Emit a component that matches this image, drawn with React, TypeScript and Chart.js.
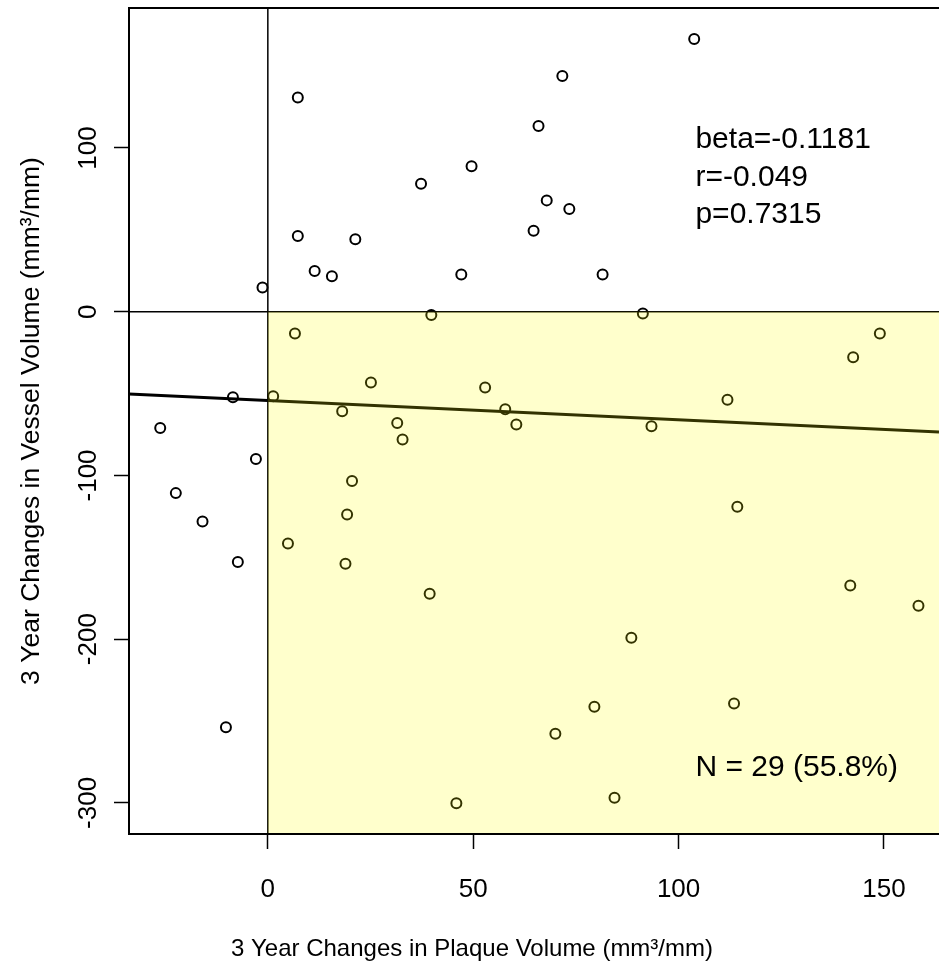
import { useEffect, useRef } from 'react';
import { Chart, registerables } from 'chart.js';

Chart.register(...registerables);

// 3-year change in plaque volume (x) and vessel volume (y), mm³/mm
const plaqueChange = [
  103.8, 7.3, 71.7, 65.9, 49.6, 37.3, 67.9, 73.4, 7.3, 21.3, 64.7, 11.4, 15.6, 47.1, 81.5, -1.3,
  39.8, 91.3, 6.6, 149.0, 142.5, 25.1, 1.3, -8.5, 52.9, 111.9, -26.2, 18.1, 31.5, 32.8, 57.8, 60.5,
  93.4, -2.9, -22.4, 20.5, -15.9, 19.3, 114.3, 4.9, -7.3, 18.9, 39.4, 141.8, 158.4, 88.5, 79.5, 113.5,
  -10.2, 70.0, 84.4, 45.9,
];
const vesselChange = [
  166.6, 130.9, 143.9, 113.4, 88.8, 78.1, 68.0, 62.8, 46.3, 44.3, 49.4, 24.8, 21.7, 22.7, 22.7, 14.8,
  -2.0, -1.1, -13.3, -13.3, -27.8, -43.3, -51.7, -52.3, -46.3, -53.7, -71.0, -60.8, -68.0, -78.1, -59.6, -68.9,
  -70.0, -90.0, -110.8, -103.4, -128.1, -123.8, -119.1, -141.5, -152.9, -153.9, -172.2, -167.2, -179.6, -199.1, -241.3, -239.3,
  -253.8, -257.8, -296.9, -300.2,
];

const xTicks = [0, 50, 100, 150];
const yTicks = [-300, -200, -100, 0, 100];
const xRange = [-33.8, 163.4];
const yRange = [-319, 185.5];

// regression line end points
const fitLineX = [-33.8, 163.4];
const fitLineY = [-50.2, -73.5];

const statsLines = ['beta=-0.1181', 'r=-0.049', 'p=0.7315'];
const statsY = [99.9, 77.0, 54.4];
const statsX = 104.1;
const countLabel = 'N = 29 (55.8%)';
const countY = -283.3;

const xTitle = '3 Year Changes in Plaque Volume (mm³/mm)';
const yTitle = '3 Year Changes in Vessel Volume (mm³/mm)';

const FONT = '"Liberation Sans", Arial, Helvetica, sans-serif';

const rPlot = {
  id: 'rPlot',
  beforeDatasetsDraw(chart: any) {
    const { ctx, chartArea: a } = chart;
    const x = chart.scales.x;
    const y = chart.scales.y;
    ctx.save();
    ctx.beginPath();
    ctx.rect(a.left, a.top, a.right - a.left, a.bottom - a.top);
    ctx.clip();
    ctx.strokeStyle = '#000';
    ctx.lineWidth = 1.5;
    const x0 = x.getPixelForValue(0);
    const y0 = y.getPixelForValue(0);
    ctx.beginPath();
    ctx.moveTo(x0, a.top);
    ctx.lineTo(x0, a.bottom);
    ctx.moveTo(a.left, y0);
    ctx.lineTo(a.right, y0);
    ctx.stroke();
    ctx.restore();
  },
  afterDatasetsDraw(chart: any) {
    const { ctx, chartArea: a } = chart;
    const x0 = chart.scales.x.getPixelForValue(0);
    const y0 = chart.scales.y.getPixelForValue(0);
    ctx.save();
    ctx.fillStyle = 'rgba(255,255,0,0.2)';
    ctx.fillRect(x0, y0, a.right - x0, a.bottom - y0);
    ctx.restore();
  },
  afterDraw(chart: any) {
    const { ctx, chartArea: a } = chart;
    const xs = chart.scales.x;
    const ys = chart.scales.y;
    ctx.save();
    // frame
    ctx.strokeStyle = '#000';
    ctx.lineWidth = 2;
    ctx.beginPath();
    ctx.moveTo(a.right + 5, a.top);
    ctx.lineTo(a.left, a.top);
    ctx.lineTo(a.left, a.bottom);
    ctx.lineTo(a.right + 5, a.bottom);
    ctx.stroke();

    ctx.fillStyle = '#000';
    // x tick labels
    ctx.font = `26px ${FONT}`;
    ctx.textAlign = 'center';
    ctx.textBaseline = 'alphabetic';
    xs.ticks.forEach((t: any) => {
      ctx.fillText(String(t.value), xs.getPixelForValue(t.value), a.bottom + 63);
    });
    // y tick labels (rotated)
    ys.ticks.forEach((t: any) => {
      ctx.save();
      ctx.translate(a.left - 33, ys.getPixelForValue(t.value));
      ctx.rotate(-Math.PI / 2);
      ctx.fillText(String(t.value), 0, 0);
      ctx.restore();
    });
    // axis titles
    ctx.font = `24px ${FONT}`;
    ctx.fillText(xTitle, 472, a.bottom + 122);
    ctx.save();
    ctx.font = `26.5px ${FONT}`;
    ctx.translate(39, (a.top + a.bottom) / 2);
    ctx.rotate(-Math.PI / 2);
    ctx.fillText(yTitle, 0, 0);
    ctx.restore();

    // annotations
    ctx.font = `30px ${FONT}`;
    ctx.textAlign = 'left';
    const sx = xs.getPixelForValue(statsX);
    statsLines.forEach((s, i) => {
      ctx.fillText(s, sx, ys.getPixelForValue(statsY[i]));
    });
    ctx.fillText(countLabel, sx, ys.getPixelForValue(countY));
    ctx.restore();
  },
};

export default function App() {
  const ref = useRef<HTMLCanvasElement | null>(null);
  useEffect(() => {
    document.body.style.margin = '0';
    const canvas = ref.current;
    if (!canvas) return;
    const points = plaqueChange.map((v, i) => ({ x: v, y: vesselChange[i] }));
    const fit = fitLineX.map((v, i) => ({ x: v, y: fitLineY[i] }));
    const chart = new Chart(canvas, {
      type: 'scatter',
      data: {
        datasets: [
          {
            label: 'fit',
            data: fit,
            showLine: true,
            borderColor: '#000',
            borderWidth: 3,
            pointRadius: 0,
            order: 0,
          },
          {
            label: 'subjects',
            data: points,
            pointStyle: 'circle',
            pointRadius: 5,
            pointBorderWidth: 2,
            pointBorderColor: '#000',
            pointBackgroundColor: 'rgba(0,0,0,0)',
            borderColor: '#000',
            backgroundColor: 'rgba(0,0,0,0)',
            order: 1,
          } as any,
        ],
      },
      options: {
        responsive: false,
        animation: false,
        devicePixelRatio: 1,
        events: [],
        layout: { autoPadding: false, padding: { top: 8, left: 0, right: 0, bottom: 0 } },
        plugins: { legend: { display: false }, tooltip: { enabled: false } },
        scales: {
          x: {
            type: 'linear',
            position: 'bottom',
            min: xRange[0],
            max: xRange[1],
            afterBuildTicks: (s: any) => {
              s.ticks = xTicks.map((v) => ({ value: v }));
            },
            afterFit: (s: any) => {
              s.height = 138;
            },
            ticks: { display: false },
            border: { display: false },
            grid: {
              drawOnChartArea: false,
              drawTicks: true,
              tickLength: 15,
              tickWidth: 1.5,
              tickColor: '#000',
            },
          },
          y: {
            type: 'linear',
            position: 'left',
            min: yRange[0],
            max: yRange[1],
            afterBuildTicks: (s: any) => {
              s.ticks = yTicks.map((v) => ({ value: v }));
            },
            afterFit: (s: any) => {
              s.width = 129;
            },
            ticks: { display: false },
            border: { display: false },
            grid: {
              drawOnChartArea: false,
              drawTicks: true,
              tickLength: 15,
              tickWidth: 1.5,
              tickColor: '#000',
            },
          },
        },
      } as any,
      plugins: [rPlot],
    });
    return () => chart.destroy();
  }, []);
  return (
    <div style={{ width: 939, height: 972, background: '#fff' }}>
      <canvas ref={ref} width={939} height={972} style={{ display: 'block' }} />
    </div>
  );
}
